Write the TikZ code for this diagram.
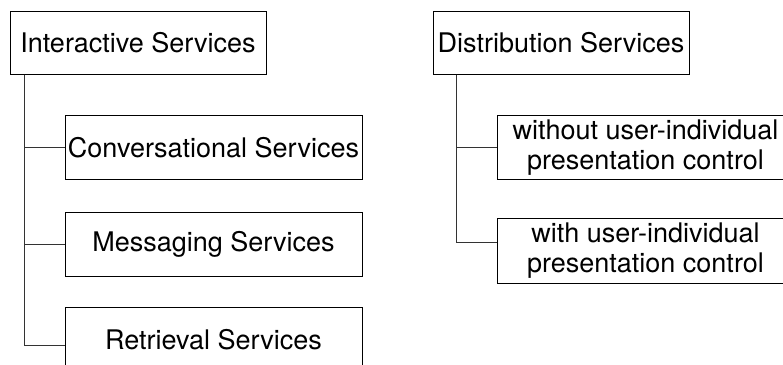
\documentclass[tikz,border=0pt]{standalone}
\usepackage{fontspec}
\setmainfont{TeX Gyre Heros}

\begin{document}
\begin{tikzpicture}[x=1pt,y=-1pt,
  service/.style={draw,line width=1pt,inner sep=0pt,align=center,
    minimum width=297pt,minimum height=64pt,font=\fontsize{27}{30}\selectfont},
  group/.style={service,minimum width=256pt,minimum height=63pt},
  branch/.style={line width=1pt,draw=black!80}]

  \useasboundingbox (0,0) rectangle (783,364);

  % Draw the two group boxes
  \node[group] (interactive) at (138,42.5) {Interactive Services};
  \node[group] (distribution) at (561,42.5) {Distribution Services};

  % Draw the interactive services
  \node[service] (conv) at (213.5,147.3) {Conversational Services};
  \node[service] (msg) at (213.5,244) {Messaging Services};
  \node[service] (retr) at (213.5,339.5) {Retrieval Services};

  % Draw the distribution services
  \node[service,minimum height=64.5pt] (without) at (645.5,147.3) {without user-individual\\presentation control};
  \node[service,minimum height=65pt] (with) at (645.5,250.5) {with user-individual\\presentation control};

  % Draw the tree lines
  \draw[branch] ([xshift=15pt]interactive.south west) |- (conv.west);
  \draw[branch] ([xshift=15pt]interactive.south west) |- (msg.west);
  \draw[branch] ([xshift=15pt]interactive.south west) |- ([yshift=-6pt]retr.west);
  \draw[branch] ([xshift=24pt]distribution.south west) |- (without.west);
  \draw[branch] ([xshift=24pt]distribution.south west) |- ([yshift=8pt]with.west);

\end{tikzpicture}
\end{document}
